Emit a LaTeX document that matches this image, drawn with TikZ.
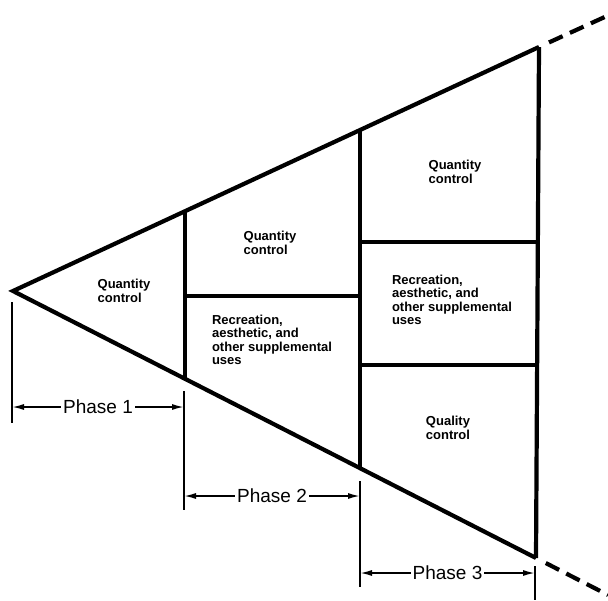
\documentclass[tikz,border=0pt]{standalone}
\usepackage{fontspec}
\setmainfont{Liberation Sans}
\usetikzlibrary{arrows.meta}

\tikzset{
  wedge/.style={line width=4.2pt,line join=miter},
  divider/.style={line width=3.2pt},
  extline/.style={line width=2pt},
  dimline/.style={line width=1.6pt,{Latex[length=12pt,width=6pt]}-{Latex[length=12pt,width=6pt]}},
  usetext/.style={align=left,inner sep=0pt,font=\bfseries\fontsize{13}{13.5}\selectfont},
  phasetext/.style={fill=white,inner sep=2pt,font=\fontsize{19}{21}\selectfont}
}

\begin{document}
\begin{tikzpicture}[x=1pt,y=-1pt]
  \useasboundingbox (0,0) rectangle (608,600);

  % outline of the wedge
  \coordinate (A) at (13,291);
  \coordinate (T) at (539,47);
  \coordinate (B) at (536,558);
  \coordinate (Tend) at (608,15.5);
  \coordinate (Bend) at (608,595);
  \coordinate (t1) at (185,211);
  \coordinate (b1) at (185,379);
  \coordinate (t2) at (360,130);
  \coordinate (b2) at (360,468);

  \draw[wedge] (T) -- (A) -- (B);
  \draw[wedge] (T) -- (B);
  \draw[wedge] (t1) -- (b1);
  \draw[wedge] (t2) -- (b2);
  \draw[wedge,dash pattern=on 15pt off 8pt,shorten <=11pt] (T) -- (Tend);
  \draw[wedge,dash pattern=on 15pt off 8pt,shorten <=11pt] (B) -- (Bend);

  % dividers
  \coordinate (d1l) at (185,296);
  \coordinate (d1r) at (360,296);
  \coordinate (d2l) at (360,242);
  \coordinate (d2r) at (538,242);
  \coordinate (d3l) at (360,365);
  \coordinate (d3r) at (537,365);
  \draw[divider] (d1l) -- (d1r);
  \draw[divider] (d2l) -- (d2r);
  \draw[divider] (d3l) -- (d3r);

  % texts
  \node[usetext] (q1) at (124,291) {Quantity\\control};
  \node[usetext] (q2) at (270,243) {Quantity\\control};
  \node[usetext] (r2) at (272,340) {Recreation,\\aesthetic, and\\other supplemental\\uses};
  \node[usetext] (q3) at (455,172) {Quantity\\control};
  \node[usetext] (r3) at (452,300) {Recreation,\\aesthetic, and\\other supplemental\\uses};
  \node[usetext] (ql3) at (448,428) {Quality\\control};

  % phase dimensions
  \coordinate (e0t) at (12,302);   \coordinate (e0b) at (12,423);
  \coordinate (e1t) at (184,391);  \coordinate (e1b) at (184,510);
  \coordinate (e2t) at (360,481);  \coordinate (e2b) at (360,587);
  \coordinate (e3t) at (535,566);  \coordinate (e3b) at (535,600);
  \draw[extline] (e0t) -- (e0b);
  \draw[extline] (e1t) -- (e1b);
  \draw[extline] (e2t) -- (e2b);
  \draw[extline] (e3t) -- (e3b);

  \coordinate (p1l) at (12,407);  \coordinate (p1r) at (184,407);
  \coordinate (p2l) at (184,496); \coordinate (p2r) at (360,496);
  \coordinate (p3l) at (360,573); \coordinate (p3r) at (535,573);
  \draw[dimline] (p1l) -- node[phasetext] (ph1) {Phase 1} (p1r);
  \draw[dimline] (p2l) -- node[phasetext] (ph2) {Phase 2} (p2r);
  \draw[dimline] (p3l) -- node[phasetext] (ph3) {Phase 3} (p3r);
\end{tikzpicture}
\end{document}
